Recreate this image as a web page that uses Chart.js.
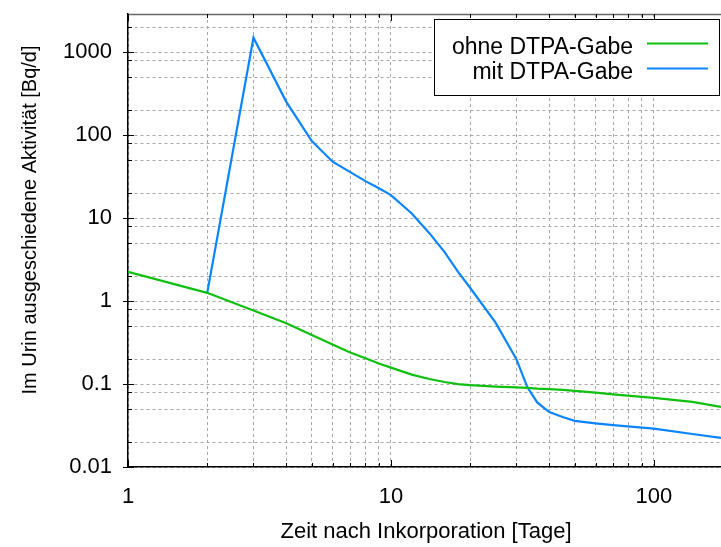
<!DOCTYPE html>
<html>
<head>
<meta charset="utf-8">
<script src="https://cdn.jsdelivr.net/npm/chart.js@4.4.1/dist/chart.umd.min.js"></script>
<style>
  html, body { margin: 0; padding: 0; background: #fff; }
  #wrap { width: 721px; height: 547px; position: relative; }
</style>
</head>
<body>
<div id="wrap"><canvas id="urinChart"></canvas></div>
<script>
// Tage nach Inkorporation
var tage = [1, 2, 3, 4, 5, 6, 7, 8, 9, 10, 12, 14, 16, 18, 20, 25, 30, 33, 36, 40, 45, 50, 60, 70, 100, 140, 180]
// Ausscheidung ohne DTPA [Bq/d]
var ohneDtpa = [2.26, 1.26, 0.77, 0.54, 0.39, 0.30, 0.24, 0.205, 0.177, 0.158, 0.13, 0.115, 0.106, 0.100, 0.097, 0.093, 0.091, 0.090, 0.088, 0.087, 0.085, 0.083, 0.079, 0.075, 0.068, 0.061, 0.053]
// Ausscheidung mit DTPA (Gabe ab Tag 2)
var mitDtpa = [null, 1.24, 1500, 253, 85, 48, 36, 28, 23, 19, 11.4, 6.6, 3.9, 2.25, 1.45, 0.55, 0.2, 0.092, 0.06, 0.046, 0.04, 0.036, 0.0335, 0.032, 0.029, 0.025, 0.0225]

var xTicks = [1, 2, 3, 4, 5, 6, 7, 8, 9, 10, 20, 30, 40, 50, 60, 70, 80, 90, 100]
var xLabels = [1, 10, 100]
var yTicks = [0.01, 0.02, 0.05, 0.08, 0.1, 0.2, 0.5, 0.8, 1, 2, 5, 8, 10, 20, 50, 80, 100, 200, 500, 800, 1000, 2000]
var yLabels = [0.01, 0.1, 1, 10, 100, 1000]

var FONT = '"Liberation Sans", Arial, sans-serif'
Chart.defaults.font.family = FONT
Chart.defaults.font.size = 22
Chart.defaults.color = '#000'

function points(vals) {
    return tage.map(function(t, i) { return { x: t, y: vals[i] } })
}

function isLabel(list, v) {
    return list.some(function(l) { return Math.abs(l - v) / l < 1e-6 })
}

// Rahmen oben, Ticks nach innen, Achsentitel und Legende
var extras = {
    id: 'extras',
    afterDraw: function(chart) {
        var ctx = chart.ctx
        var a = chart.chartArea
        var xs = chart.scales.x, ys = chart.scales.y
        ctx.save()

        ctx.strokeStyle = '#666'
        ctx.lineWidth = 1.5
        ctx.beginPath()
        ctx.moveTo(a.left, a.top + 0.5)
        ctx.lineTo(a.right, a.top + 0.5)
        ctx.stroke()

        ctx.strokeStyle = '#000'
        ctx.lineWidth = 1
        xTicks.forEach(function(v) {
            var px = Math.round(xs.getPixelForValue(v)) + 0.5
            var len = isLabel(xLabels, v) ? 7 : 4
            ctx.beginPath()
            ctx.moveTo(px, a.bottom); ctx.lineTo(px, a.bottom - len)
            ctx.moveTo(px, a.top); ctx.lineTo(px, a.top + len)
            ctx.stroke()
        })
        yTicks.forEach(function(v) {
            var py = Math.round(ys.getPixelForValue(v)) + 0.5
            var major = isLabel(yLabels, v)
            ctx.beginPath()
            ctx.moveTo(a.left - (major ? 5 : 0), py)
            ctx.lineTo(a.left + (major ? 6 : 4), py)
            ctx.stroke()
        })

        ctx.fillStyle = '#000'
        ctx.font = '22px ' + FONT
        ctx.textAlign = 'center'
        ctx.textBaseline = 'middle'
        ctx.fillText('Zeit nach Inkorporation [Tage]', 426, 532)
        ctx.save()
        ctx.font = '20px ' + FONT
        ctx.translate(30, 220)
        ctx.rotate(-Math.PI / 2)
        ctx.fillText('Im Urin ausgeschiedene Aktivität [Bq/d]', 0, 0)
        ctx.restore()

        // Legende
        ctx.fillStyle = '#fff'
        ctx.fillRect(434.5, 19.5, 285, 76)
        ctx.strokeStyle = '#000'
        ctx.lineWidth = 1
        ctx.strokeRect(434.5, 19.5, 285, 76)
        ctx.font = '23px ' + FONT
        var rows = [48, 73]
        chart.data.datasets.forEach(function(ds, i) {
            ctx.fillStyle = '#000'
            ctx.textAlign = 'right'
            ctx.fillText(ds.label, 633, rows[i])
            ctx.strokeStyle = ds.borderColor
            ctx.lineWidth = 2.2
            ctx.beginPath()
            ctx.moveTo(647, rows[i] - 4.5)
            ctx.lineTo(708, rows[i] - 4.5)
            ctx.stroke()
        })
        ctx.restore()
    }
}

var chart = new Chart(document.getElementById('urinChart'), {
    type: 'line',
    data: {
        datasets: [
            { label: 'ohne DTPA-Gabe', data: points(ohneDtpa), borderColor: '#10c010', borderWidth: 2.2 },
            { label: 'mit DTPA-Gabe', data: points(mitDtpa), borderColor: '#0a84ff', borderWidth: 2.2 }
        ]
    },
    options: {
        responsive: true,
        maintainAspectRatio: false,
        animation: false,
        layout: { padding: { top: 14, right: 0, left: 0, bottom: 0 } },
        elements: { point: { radius: 0 }, line: { tension: 0 } },
        plugins: { legend: { display: false }, tooltip: { enabled: false } },
        scales: {
            x: {
                type: 'logarithmic',
                min: 1,
                max: 180,
                afterBuildTicks: function(s) { s.ticks = xTicks.map(function(v) { return { value: v } }) },
                afterFit: function(s) { s.height = 80; s.paddingRight = 0 },
                ticks: {
                    autoSkip: false,
                    maxRotation: 0,
                    padding: 17,
                    callback: function(v) { return isLabel(xLabels, v) ? String(v) : '' }
                },
                grid: { color: '#a8a8a8', lineWidth: 1, drawTicks: false },
                border: { display: true, color: '#000', width: 1.5, dash: [3, 3] }
            },
            y: {
                type: 'logarithmic',
                min: 0.01,
                max: 2900,
                afterBuildTicks: function(s) { s.ticks = yTicks.map(function(v) { return { value: v } }) },
                afterFit: function(s) { s.width = 128; s.paddingTop = 0; s.paddingBottom = 0 },
                ticks: {
                    autoSkip: false,
                    padding: 16,
                    callback: function(v) { return isLabel(yLabels, v) ? String(v) : '' }
                },
                grid: { color: '#a8a8a8', lineWidth: 1, drawTicks: false },
                border: { display: true, color: '#000', width: 1.5, dash: [3, 3] }
            }
        }
    },
    plugins: [extras]
})
</script>
</body>
</html>
